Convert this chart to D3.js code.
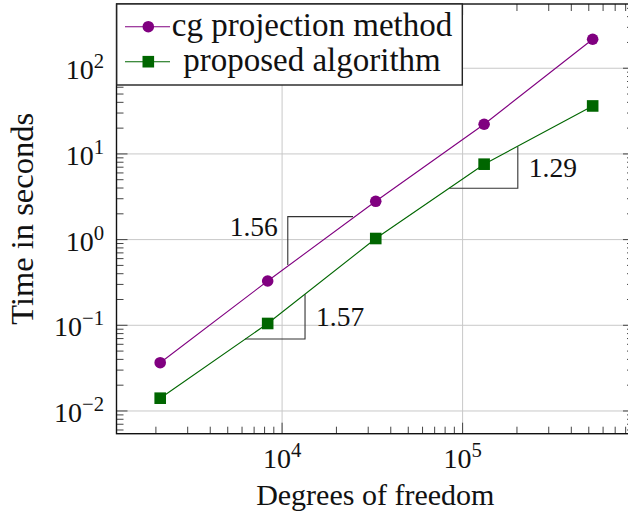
<!DOCTYPE html>
<html>
<head>
<meta charset="utf-8">
<script src="https://cdn.jsdelivr.net/npm/d3@7"></script>
<style>
  html, body { margin: 0; padding: 0; background: #fff; }
  svg { display: block; }
  text { font-family: "Liberation Serif", "Times New Roman", serif; fill: #111; }
</style>
</head>
<body>
<svg id="chart" width="628" height="515" font-family="Liberation Serif, serif"></svg>
<script>
// Runtime vs. problem size (log-log)
const dof = [2113, 8321, 33025, 131585, 525313];
const cgTime = [0.0366, 0.329, 2.80, 22.2, 218];
const proposedTime = [0.0141, 0.105, 1.03, 7.59, 36.3];

const seriesNames = ["cg projection method", "proposed algorithm"];

const xMajorTicks = [1e4, 1e5];
const yMajorTicks = [1e-2, 1e-1, 1e0, 1e1, 1e2];
const xDomain = [1.21e3, 8.9e5];
const yDomain = [5.43e-3, 562];

// convergence-rate triangles: start/end dof, value at start, slope
const slopeX0 = [10754, 6237, 84500];
const slopeX1 = [24720, 13400, 202200];
const slopeY0 = [0.506, 0.0692, 3.97];
const slopeValues = [1.56, 1.57, 1.29];
const slopeCorner = ["upper-left", "lower-right", "lower-right"];

const svg = d3.select("#chart");
const margin = { left: 116.5, top: 4 };
const W = 517.5, H = 429.7;

const x = d3.scaleLog().domain(xDomain).range([margin.left, margin.left + W]);
const y = d3.scaleLog().domain(yDomain).range([margin.top + H, margin.top]);

const xMinor = x.ticks().filter(t => !xMajorTicks.some(m => Math.abs(m - t) / m < 1e-9));
const yMinor = y.ticks().filter(t => !yMajorTicks.some(m => Math.abs(m - t) / m < 1e-9));

const x0 = margin.left, x1 = margin.left + W, y0 = margin.top + H, y1 = margin.top;

// grid
const grid = svg.append("g").attr("stroke", "#c8c8c8").attr("stroke-width", 1);
grid.selectAll(".gx").data(xMajorTicks).join("line")
  .attr("x1", d => x(d)).attr("x2", d => x(d)).attr("y1", y0).attr("y2", y1);
grid.selectAll(".gy").data(yMajorTicks).join("line")
  .attr("y1", d => y(d)).attr("y2", d => y(d)).attr("x1", x0).attr("x2", x1);

// ticks on all four sides, pointing inward
const ticks = svg.append("g").attr("stroke", "#444").attr("stroke-width", 1);
const majLen = 11, minLen = 7;
function xTicks(vals, len) {
  vals.forEach(v => {
    ticks.append("line").attr("x1", x(v)).attr("x2", x(v)).attr("y1", y0).attr("y2", y0 - len);
    ticks.append("line").attr("x1", x(v)).attr("x2", x(v)).attr("y1", y1).attr("y2", y1 + len);
  });
}
function yTicks(vals, len) {
  vals.forEach(v => {
    ticks.append("line").attr("y1", y(v)).attr("y2", y(v)).attr("x1", x0).attr("x2", x0 + len);
    ticks.append("line").attr("y1", y(v)).attr("y2", y(v)).attr("x1", x1).attr("x2", x1 - len);
  });
}
xTicks(xMajorTicks, majLen); xTicks(xMinor, minLen);
yTicks(yMajorTicks, majLen); yTicks(yMinor, minLen);

// frame
svg.append("rect").attr("x", x0).attr("y", y1).attr("width", W).attr("height", H)
  .attr("fill", "none").attr("stroke", "#111").attr("stroke-width", 1.4);

// power-of-ten labels
function powLabel(sel, v) {
  const e = Math.round(Math.log10(v));
  sel.append("tspan").text("10");
  sel.append("tspan").attr("dy", -11).attr("font-size", "0.74em")
    .text(e < 0 ? "\u2212" + (-e) : String(e));
}
xMajorTicks.forEach(v => {
  const t = svg.append("text").attr("x", x(v)).attr("y", 468).attr("text-anchor", "middle")
    .attr("font-size", 28);
  powLabel(t, v);
});
yMajorTicks.forEach(v => {
  const t = svg.append("text").attr("x", 104).attr("y", y(v) + 11).attr("text-anchor", "end")
    .attr("font-size", 28);
  powLabel(t, v);
});

// axis titles
svg.append("text").attr("x", (x0 + x1) / 2).attr("y", 505).attr("text-anchor", "middle")
  .attr("font-size", 30).text("Degrees of freedom");
svg.append("text").attr("transform", `translate(33,${(y0 + y1) / 2}) rotate(-90)`)
  .attr("text-anchor", "middle").attr("font-size", 32.5).text("Time in seconds");

// slope triangles
const tri = svg.append("g");
slopeValues.forEach((s, i) => {
  const a = slopeX0[i], b = slopeX1[i], ya = slopeY0[i];
  const yb = ya * Math.pow(b / a, s);
  let pts, label;
  if (slopeCorner[i] === "upper-left") {
    pts = [[a, ya], [a, yb], [b, yb]];
    label = tri.append("text").attr("x", x(a) - 10).attr("y", y(yb) + 19.5)
      .attr("text-anchor", "end");
  } else {
    pts = [[a, ya], [b, ya], [b, yb]];
    label = tri.append("text").attr("x", x(b) + 11)
      .attr("y", (y(ya) + y(yb)) / 2 + 9.5).attr("text-anchor", "start");
  }
  label.attr("font-size", 27.5).text(s.toFixed(2));
  tri.append("path").attr("d", d3.line().x(d => x(d[0])).y(d => y(d[1]))(pts))
    .attr("fill", "none").attr("stroke", "#333").attr("stroke-width", 1.1);
});

// data series
const series = [
  { name: seriesNames[0], values: cgTime, color: "#800080", marker: "circle" },
  { name: seriesNames[1], values: proposedTime, color: "#006600", marker: "square" }
];
const line = d3.line().x(d => x(d[0])).y(d => y(d[1]));
function drawMarker(g, m, cx, cy, color) {
  if (m === "circle") {
    g.append("circle").attr("cx", cx).attr("cy", cy).attr("r", 5.8).attr("fill", color);
  } else {
    g.append("rect").attr("x", cx - 5.8).attr("y", cy - 5.8).attr("width", 11.6).attr("height", 11.6)
      .attr("fill", color);
  }
}
series.forEach(s => {
  const pts = dof.map((d, i) => [d, s.values[i]]);
  const g = svg.append("g");
  g.append("path").attr("d", line(pts)).attr("fill", "none")
    .attr("stroke", s.color).attr("stroke-width", 1.1);
  pts.forEach(p => drawMarker(g, s.marker, x(p[0]), y(p[1]), s.color));
});

// legend
const lg = svg.append("g");
lg.append("rect").attr("x", 116.7).attr("y", 4).attr("width", 345.6).attr("height", 81)
  .attr("fill", "#fff").attr("stroke", "#222").attr("stroke-width", 1.4);
series.forEach((s, i) => {
  const cy = 26.7 + i * 35;
  lg.append("line").attr("x1", 125).attr("x2", 170).attr("y1", cy).attr("y2", cy)
    .attr("stroke", s.color).attr("stroke-width", 1.1);
  drawMarker(lg, s.marker, 148.3, cy, s.color);
  lg.append("text").attr("x", 312).attr("y", cy + 9).attr("text-anchor", "middle")
    .attr("font-size", 33).text(s.name);
});
</script>
</body>
</html>
